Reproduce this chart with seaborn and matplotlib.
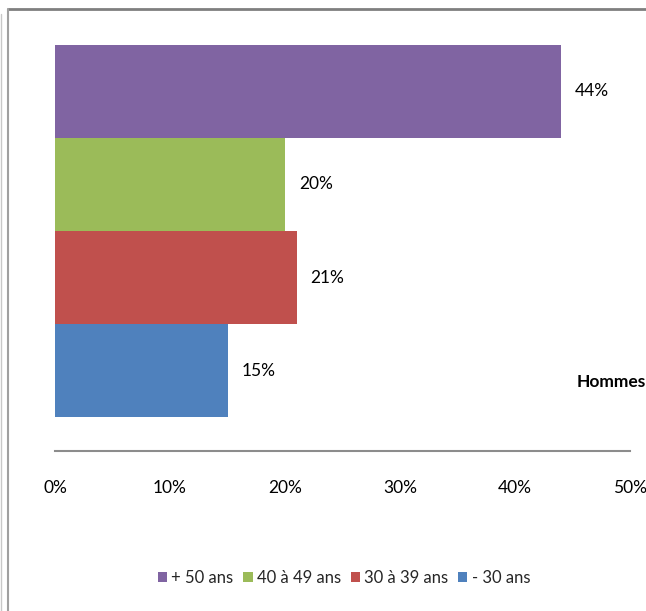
import matplotlib
matplotlib.use("Agg")
import matplotlib.pyplot as plt
from matplotlib.lines import Line2D
from matplotlib.patches import Patch
import seaborn as sns
import pandas as pd

categories = ["Hommes"]
groups = ["+ 50 ans", "40 à 49 ans", "30 à 39 ans", "- 30 ans"]
values = [44, 20, 21, 15]
labels = ["44%", "20%", "21%", "15%"]
colors = ["#8064A2", "#9BBB59", "#C0504D", "#4F81BD"]
xticks = [0, 10, 20, 30, 40, 50]
xticklabels = ["0%", "10%", "20%", "30%", "40%", "50%"]

df = pd.DataFrame({"cat": categories * len(groups), "group": groups, "value": values})

sns.set_theme(style="white")
plt.rcParams["font.family"] = ["Lato", "DejaVu Sans"]

W, H = 646, 611
fig = plt.figure(figsize=(W / 100, H / 100), dpi=100)
ax = fig.add_axes([55 / W, (H - 451) / H, (630 - 55) / W, 440 / H])

sns.barplot(data=df, y="cat", x="value", hue="group", hue_order=groups,
            palette=colors, orient="h", width=0.8, dodge=True, saturation=1,
            edgecolor="none", linewidth=0, ax=ax, legend=False)

ax.set_xlim(0, 50)
ax.set_ylim(0.473, -0.473)
ax.set_xticks(xticks)
ax.set_xticklabels(xticklabels, fontsize=12.5, color="black")
ax.tick_params(axis="x", length=0, pad=21)
ax.set_yticks([])
ax.set_xlabel("")
ax.set_ylabel("")
for s in ["top", "left", "right"]:
    ax.spines[s].set_visible(False)
ax.spines["bottom"].set_color("#8C8C8C")
ax.spines["bottom"].set_linewidth(1.5)

for cont, lab in zip(ax.containers, labels):
    ax.bar_label(cont, labels=[lab], padding=10, fontsize=12.5, color="black")

# category label at the right edge (cut by the frame, as in the reference)
fig.text(577 / W, 1 - 382 / H, categories[0], fontsize=12.5, fontweight="bold",
         ha="left", va="center", color="black")

# chart frame lines
fig.add_artist(Line2D([8 / W, 1.0], [1 - 9 / H, 1 - 9 / H], color="#7F7F7F", lw=2))
fig.add_artist(Line2D([8 / W, 8 / W], [0, 1 - 9 / H], color="#A0A0A0", lw=1.5))
fig.add_artist(Line2D([0.5 / W, 0.5 / W], [0, 1 - 14 / H], color="#C8C8C8", lw=1))

handles = [Patch(facecolor=c, edgecolor="none") for c in colors]
fig.legend(handles, groups, loc="center", bbox_to_anchor=(344 / W, 1 - 578 / H),
           ncol=4, frameon=False, fontsize=12, handlelength=0.55, handleheight=0.55,
           handletextpad=0.25, columnspacing=0.6, borderpad=0)

fig.savefig("out.png", dpi=100)
